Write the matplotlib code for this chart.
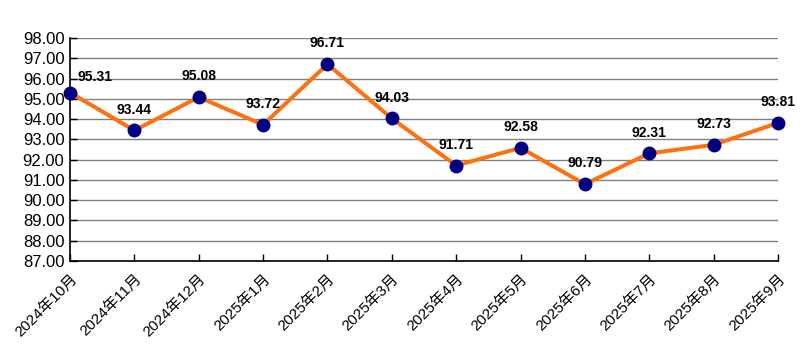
import matplotlib
matplotlib.use("Agg")
import matplotlib.pyplot as plt

months = ["2024年10月", "2024年11月", "2024年12月", "2025年1月", "2025年2月", "2025年3月",
          "2025年4月", "2025年5月", "2025年6月", "2025年7月", "2025年8月", "2025年9月"]
values = [95.31, 93.44, 95.08, 93.72, 96.71, 94.03, 91.71, 92.58, 90.79, 92.31, 92.73, 93.81]
yticks = [87, 88, 89, 90, 91, 92, 93, 94, 95, 96, 97, 98]

plt.rcParams['font.family'] = ['Liberation Sans', 'Noto Sans CJK SC', 'DejaVu Sans']

fig = plt.figure(figsize=(8.04, 3.6), dpi=100)
ax = fig.add_axes([70/804, 1-261/360, (778-70)/804, (261-38)/360])

x = list(range(len(values)))
ax.plot(x, values, color='#FF7010', lw=2.9, zorder=3, solid_joinstyle='miter')
ax.plot(x, values, 'o', color='#000080', ms=9, zorder=4, clip_on=False)

for i, v in enumerate(values):
    dx, dy = 0, 15
    if i == 0:
        dx, dy = 18, 11.5
    ax.annotate(f"{v:.2f}", (i, v), xytext=(dx, dy), textcoords='offset points',
                ha='center', va='center', fontsize=10, fontweight='bold')

ax.set_xlim(0, len(values) - 1)
ax.set_ylim(87, 98)
ax.set_yticks(yticks)
ax.set_yticklabels([f"{t:.2f}" for t in yticks], fontsize=12)
ax.set_xticks(x)
ax.set_xticklabels(months, rotation=45, ha='right', rotation_mode='anchor', fontsize=11)
ax.tick_params(axis='both', direction='in', length=5, width=1, colors='black', pad=4)
ax.tick_params(axis='x', pad=8)
ax.yaxis.grid(True, color='#808080', lw=1)
ax.set_axisbelow(True)
for s in ['top', 'right']:
    ax.spines[s].set_visible(False)
for s in ['left', 'bottom']:
    ax.spines[s].set_color('black')
    ax.spines[s].set_linewidth(1.2)

fig.savefig('out.png', dpi=100)
